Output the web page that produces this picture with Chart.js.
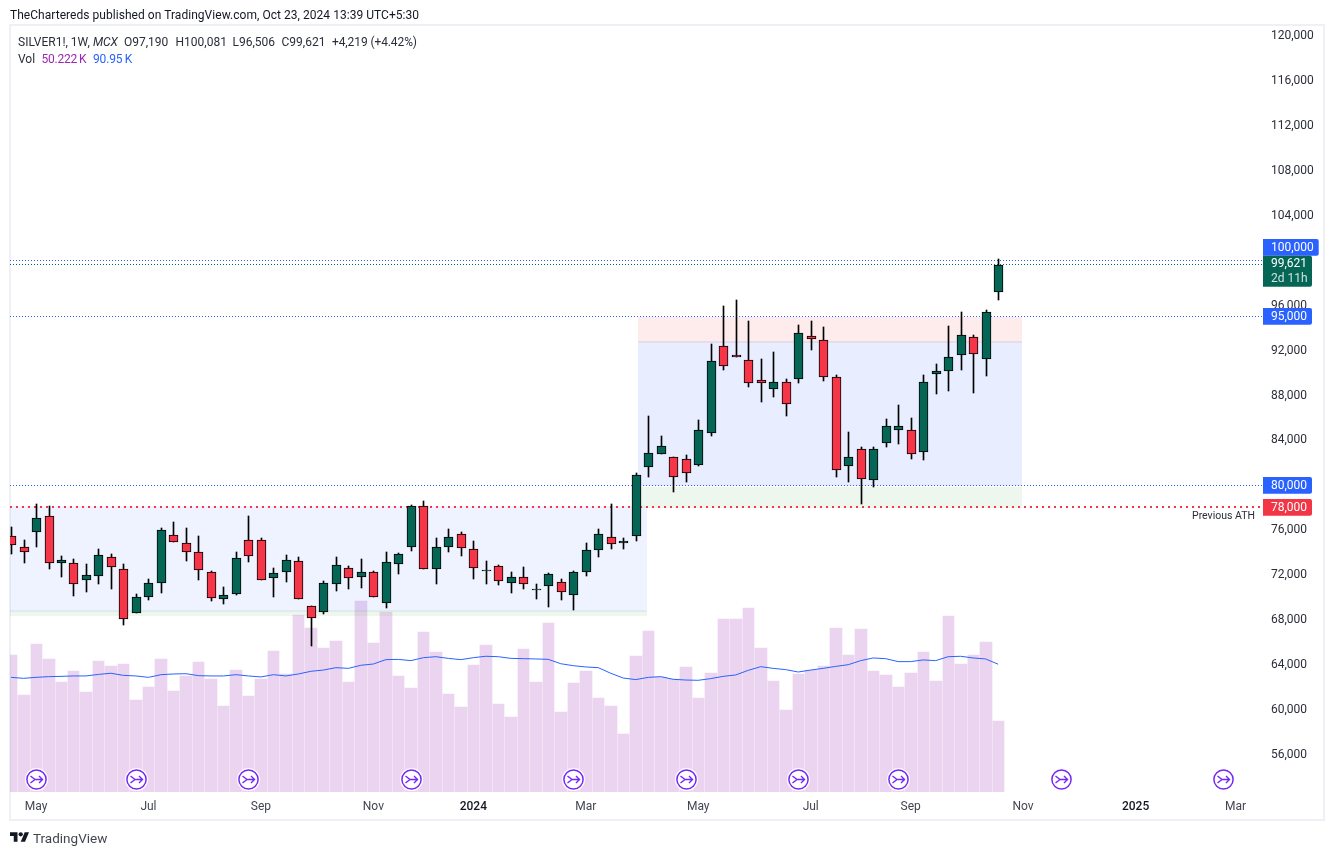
<!DOCTYPE html>
<html><head><meta charset="utf-8">
<style>
html,body{margin:0;padding:0;background:#fff;width:1334px;height:855px;overflow:hidden;font-family:Roboto,sans-serif;color:#131722}
#frame{position:absolute;left:9px;top:24px;width:1316px;height:797px;box-sizing:border-box;border:2px solid #eef0f5}
canvas{position:absolute;left:0;top:0}
.t{position:absolute;white-space:nowrap;font-size:12px;line-height:14px;color:#2a2e39}
</style></head><body>
<div id="frame"></div>
<canvas id="c" width="1334" height="855"></canvas>
<div class="t" style="left:10px;top:8px;color:#131722;letter-spacing:.042px">TheChartereds published on TradingView.com, Oct 23, 2024 13:39 UTC+5:30</div>
<div class="t" style="left:18px;top:35px">SILVER1!, 1W, <i>MCX</i></div>
<div class="t" style="left:124px;top:35px">O97,190</div>
<div class="t" style="left:175.5px;top:35px">H100,081</div>
<div class="t" style="left:232.5px;top:35px">L96,506</div>
<div class="t" style="left:281.5px;top:35px">C99,621</div>
<div class="t" style="left:332px;top:35px;letter-spacing:-.1px">+4,219 (+4.42%)</div>
<div class="t" style="left:18px;top:52px">Vol</div>
<div class="t" style="left:41.5px;top:52px;color:#9c27b0;letter-spacing:-.25px">50.222&#8201;K</div>
<div class="t" style="left:93px;top:52px;color:#2962ff;letter-spacing:-.15px">90.95&#8201;K</div>
<svg style="position:absolute;left:10px;top:830px" width="19.3" height="15" viewBox="0 0 36 28"><path fill="#131722" d="M14 22H7V11H0V4h14v18zM28 22h-8l7.5-18h8L28 22z"/><circle fill="#131722" cx="20" cy="8" r="4"/></svg>
<div class="t" style="left:33px;top:830px;font-size:13.5px;line-height:16px;color:#434651">TradingView</div>
<script src="https://cdn.jsdelivr.net/npm/chart.js@4"></script>
<script>
// Weekly bars, index 0 = oldest visible week
const opens=[75426,74448,75836,77206,73078,73024,71512,71868,73558,72490,68576,69999,71245,75515,74804,74003,72224,69821,70320,75071,75071,71690,72224,73202,69198,68665,71156,72579,71779,72224,69465,72935,74448,78095,72490,74448,75604,74270,72330,72757,71245,71779,70670,70978,71334,70177,72224,74181,75337,74860,75426,81565,82722,82455,82277,81743,84590,92331,91557,91085,89306,88505,89128,89395,93220,92864,89573,81654,83167,80409,83701,84857,84857,82900,89840,90106,91530,93131,91174,97190];
const closes=[74626,74003,77028,73024,73318,71156,71957,73736,72668,68042,69999,71245,75960,74893,74003,72401,69910,70177,73469,73647,71512,72135,73291,69821,68131,71245,72846,71690,72224,69999,73113,73825,78095,72490,74448,75337,74359,72579,72420,71423,71779,71156,70760,72046,70444,72224,74181,75604,74715,75010,80854,82811,83434,80676,81031,84857,90996,90551,91400,89039,89039,89128,87170,93487,93007,89573,81298,82455,80498,83167,85213,85213,82722,89128,90106,91352,93309,91619,95356,99621];
const highs=[76254,75071,78300,78122,73674,73380,72962,74270,73852,72962,70293,71627,76165,76699,76165,75453,72366,70916,74030,77232,75248,72579,73763,73558,69198,71449,73558,72757,73407,72312,74003,73914,78184,78567,75248,76049,75782,74982,73202,72846,72224,72668,71156,72135,71601,72312,74804,76049,78273,75248,81031,86103,84323,82455,82633,85747,92509,95889,96450,94555,91174,91797,89395,94199,94555,94021,89751,84679,83345,83345,85836,87081,85925,89751,90729,94110,95356,93309,95534,100081];
const lows=[73878,73078,74501,72544,71832,70142,70497,71209,70764,67561,68576,69786,70408,74893,73256,71565,69697,69430,70231,73167,71512,70053,71387,69821,65693,68540,70586,70764,70853,69999,69074,72099,74145,72490,71209,74056,73700,71654,71209,71120,70408,70764,69875,69163,69786,68896,71921,73611,74323,74323,75035,80729,82722,79394,80284,81654,84377,90249,91400,88736,87402,87847,86156,89092,92028,89270,80729,80284,78300,79839,83398,83665,82330,82241,88113,88380,90249,88202,89715,96506];
const volumes=[97.5,69.0,105.3,94.7,78.3,86.1,71.2,93.2,89.7,91.1,65.5,74.7,94.7,71.9,82.6,92.5,80.4,61.2,86.8,68.3,80.4,100.4,84.0,126.0,116.7,102.5,107.5,78.3,135.9,106.0,128.1,82.6,74.0,113.9,99.6,69.8,60.5,90.4,104.6,62.6,53.4,101.8,78.3,120.3,56.9,77.6,86.1,66.9,61.2,41.3,96.8,114.6,81.6,80.2,89.0,66.9,84.7,123.1,123.1,131.0,102.5,79.0,58.4,84.0,86.8,89.7,116.7,97.5,116.0,86.1,83.3,74.7,84.7,99.6,79.0,125.3,91.1,97.5,106.8,50.222];
const volumeMA=[81.6,80.9,81.6,82.1,82.3,82.6,82.6,83.7,84.5,83.0,82.6,81.6,83.5,84.0,84.2,82.8,82.6,82.6,83.5,82.6,81.9,83.5,82.6,84.0,85.9,86.8,88.5,88.0,90.2,91.1,94.2,94.4,93.5,95.6,96.3,95.1,94.2,95.6,96.6,96.3,95.1,94.9,94.7,94.4,91.3,89.9,89.0,88.5,84.5,81.1,80.0,81.6,82.1,80.2,79.7,79.5,80.7,82.3,83.3,86.6,89.2,88.0,87.1,85.4,86.8,88.0,89.4,90.6,93.5,95.4,94.9,92.8,92.8,94.0,93.5,96.3,96.6,95.4,94.7,90.95];
const priceTicks=[120000,116000,112000,108000,104000,96000,92000,88000,84000,76000,72000,68000,64000,60000,56000];
const timeTickWeeks=[2,11,20,29,37,46,55,64,72,81,90,98];
const timeTickLabels=['May','Jul','Sep','Nov','2024','Mar','May','Jul','Sep','Nov','2025','Mar'];
const eventWeeks=[2,10,19,32,45,54,63,71,84,97];
const levelValues=[100000,95000,80000];
const lastClose=99621, athLevel=78000;
const XMIN=-0.0816, XMAX=100.198;
const zoneFrom=[XMIN,XMIN,50.18,50.18,50.18];
const zoneTo=[50.9,50.9,80.91,80.91,80.91];
const zoneHigh=[78100,68869,94940,92802,79840];
const zoneLow=[68691,68335,92624,79950,78000];
const zoneColor=['rgba(41,98,255,0.075)','rgba(76,175,80,0.1)','rgba(242,54,69,0.1)','rgba(41,98,255,0.11)','rgba(76,175,80,0.1)'];

const UP='#056656', DOWN='#f53649';
const FONT='Roboto, sans-serif';
const fmt=v=>Number(v).toLocaleString('en-US');
const weeks=opens.map((_,i)=>i);

const datasets=[];
datasets.push({type:'bar',label:'Volume',yAxisID:'yv',grouped:false,barThickness:11.6,order:50,
  backgroundColor:'rgba(155,40,175,0.2)',borderWidth:0,data:weeks.map(i=>({x:i,y:volumes[i]}))});
datasets.push({type:'line',label:'Volume MA',yAxisID:'yv',order:45,borderColor:'#2962ff',borderWidth:1,pointRadius:0,tension:0,fill:false,
  data:weeks.map(i=>({x:i,y:volumeMA[i]}))});
zoneHigh.forEach((h,k)=>{
  datasets.push({type:'line',label:'zone',yAxisID:'y',order:40-k,borderWidth:0,pointRadius:0,backgroundColor:zoneColor[k],fill:'+1',
    data:[{x:zoneFrom[k],y:h},{x:zoneTo[k],y:h}]});
  datasets.push({type:'line',label:'zone',yAxisID:'y',order:40-k,borderWidth:0,pointRadius:0,fill:false,
    data:[{x:zoneFrom[k],y:zoneLow[k]},{x:zoneTo[k],y:zoneLow[k]}]});
});
levelValues.forEach(v=>datasets.push({type:'line',label:'level',yAxisID:'y',order:20,borderColor:'#2962ff',borderWidth:1,borderDash:[1,2],pointRadius:0,fill:false,
  data:[{x:XMIN,y:v},{x:XMAX,y:v}]}));
datasets.push({type:'line',label:'level',yAxisID:'y',order:20,borderColor:UP,borderWidth:1,borderDash:[1,2],pointRadius:0,fill:false,
  data:[{x:XMIN,y:lastClose},{x:XMAX,y:lastClose}]});
datasets.push({type:'line',label:'ath',yAxisID:'y',order:19,borderColor:'#f53649',borderWidth:2,borderDash:[2,4],pointRadius:0,fill:false,
  data:[{x:XMIN,y:athLevel},{x:XMAX,y:athLevel}]});
datasets.push({type:'bar',label:'Wicks',yAxisID:'y',grouped:false,barThickness:1,order:10,backgroundColor:'#000',borderWidth:0,
  data:weeks.map(i=>({x:i,y:[lows[i],highs[i]]}))});
datasets.push({type:'bar',label:'Bodies',yAxisID:'y',grouped:false,barThickness:9,order:5,
  backgroundColor:weeks.map(i=>closes[i]>=opens[i]?UP:DOWN),borderColor:'#000',borderWidth:1,borderSkipped:false,
  data:weeks.map(i=>({x:i,y:[opens[i],closes[i]]}))});

// snap library-computed element positions onto whole device pixels so edges stay crisp
const snap={id:'snap',afterDatasetsUpdate(chart){
  chart.data.datasets.forEach((ds,d)=>{
    const els=chart.getDatasetMeta(d).data;
    if(ds.label==='Wicks'||ds.label==='Bodies'){
      els.forEach(e=>{
        e.x=Math.round(e.x)+0.5;
        const a=Math.round(Math.min(e.y,e.base));let b=Math.round(Math.max(e.y,e.base));
        if(b<=a)b=a+1;
        e.y=a;e.base=b;e.height=b-a;
      });
    }else if(ds.label==='Volume'){
      const xs=els.map(e=>e.x);
      els.forEach((e,i)=>{
        const r=Math.round(xs[i])+6;
        const l=i?Math.round(xs[i-1])+7:r-12;
        e.x=(l+r)/2;e.width=r-l;
        e.y=Math.round(e.y);e.height=e.base-e.y;
      });
    }else if(ds.label==='zone'){
      els.forEach(p=>{p.x=Math.round(p.x);p.y=Math.round(p.y);});
    }else if(ds.label==='level'){
      els.forEach(p=>{p.y=Math.floor(p.y)+0.5;});
    }else if(ds.label==='ath'){
      els.forEach(p=>{p.y=Math.floor(p.y);});
    }
  });
}};

function badge(ctx,x,y,w,h,color){ctx.fillStyle=color;ctx.beginPath();ctx.roundRect(x,y,w,h,[0,2,2,0]);ctx.fill();}
const overlay={id:'overlay',afterDraw(chart){
  const ctx=chart.ctx,xs=chart.scales.x;
  ctx.save();
  // event markers
  eventWeeks.forEach(w=>{
    const x=Math.round(xs.getPixelForValue(w))+0.5,y=779.5;
    ctx.beginPath();ctx.arc(x,y,11.5,0,Math.PI*2);ctx.fillStyle='#fff';ctx.fill();
    ctx.beginPath();ctx.arc(x,y,9.6,0,Math.PI*2);ctx.strokeStyle='#7627f5';ctx.lineWidth=1.5;ctx.stroke();
    ctx.beginPath();ctx.lineWidth=1.4;
    ctx.moveTo(x-6,y-3.5);ctx.lineTo(x-1.5,y);ctx.lineTo(x-6,y+3.5);
    ctx.moveTo(x-1.5,y);ctx.lineTo(x+6,y);
    ctx.moveTo(x+2.5,y-3.5);ctx.lineTo(x+6,y);ctx.lineTo(x+2.5,y+3.5);
    ctx.stroke();
  });
  // price badges
  ctx.textBaseline='middle';ctx.textAlign='left';
  ctx.font='12px '+FONT;
  const X=1263;
  badge(ctx,X,239,55.7,16.7,'#2962ff');
  badge(ctx,X,255.7,49,31,UP);
  badge(ctx,X,308,49,16.7,'#2962ff');
  badge(ctx,X,477,49,16.7,'#2962ff');
  badge(ctx,X,499,49,16.7,'#f23645');
  ctx.fillStyle='#fff';
  ctx.fillText(fmt(100000),1271,247.5);
  ctx.fillText(fmt(lastClose),1271,264);
  ctx.fillText(fmt(95000),1271,316.5);
  ctx.fillText(fmt(80000),1271,485.5);
  ctx.fillText(fmt(athLevel),1271,507.5);
  ctx.fillStyle='#cfe3df';
  ctx.fillText('2d 11h',1271,278.5);
  ctx.textAlign='right';ctx.fillStyle='#2a2e39';ctx.font='10.5px '+FONT;
  ctx.fillText('Previous ATH',1255,516.5);
  ctx.restore();
}};

new Chart(document.getElementById('c'),{
  data:{datasets},
  plugins:[snap,overlay],
  options:{
    responsive:false,animation:false,devicePixelRatio:1,
    layout:{padding:{left:10,top:26,right:0,bottom:0}},
    plugins:{legend:{display:false},tooltip:{enabled:false},title:{display:false}},
    elements:{line:{borderCapStyle:'butt'}},
    scales:{
      x:{type:'linear',min:XMIN,max:XMAX,offset:false,grid:{display:false},border:{display:false},
        afterBuildTicks:s=>{s.ticks=timeTickWeeks.map(v=>({value:v}));},
        afterFit:s=>{s.height=63;s.paddingLeft=0;s.paddingRight=0;},
        ticks:{autoSkip:false,maxRotation:0,minRotation:0,padding:0,
          callback:(v,i)=>timeTickLabels[i],
          color:c=>/^\d/.test(c.tick&&c.tick.label)?'#131722':'#434651',
          font:c=>({family:FONT,size:12,weight:/^\d/.test(c.tick&&c.tick.label)?'500':'400'})}},
      y:{type:'linear',position:'right',min:52689,max:120841,grid:{display:false,drawTicks:false},border:{display:false},
        afterBuildTicks:s=>{s.ticks=priceTicks.map(v=>({value:v}));},
        afterFit:s=>{s.width=71;s.paddingTop=0;s.paddingBottom=0;},
        ticks:{autoSkip:false,padding:8,labelOffset:0.4,color:'#2a2e39',font:{family:FONT,size:12},callback:v=>fmt(v)}},
      yv:{type:'linear',display:false,min:0,max:545.2}
    }
  }
});
</script>
</body></html>
